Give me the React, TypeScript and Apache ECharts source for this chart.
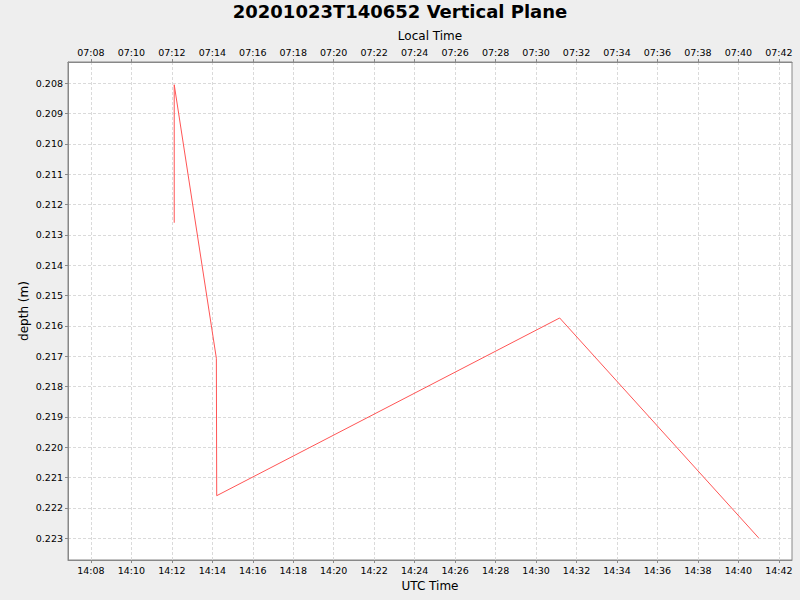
import { useEffect, useRef } from "react";
import * as echarts from "echarts";

// UTC tick labels on the bottom axis, local (UTC-7) labels on the top one
const utcTicks = ["14:08", "14:10", "14:12", "14:14", "14:16", "14:18", "14:20", "14:22", "14:24", "14:26", "14:28", "14:30", "14:32", "14:34", "14:36", "14:38", "14:40", "14:42"];
const localTicks = ["07:08", "07:10", "07:12", "07:14", "07:16", "07:18", "07:20", "07:22", "07:24", "07:26", "07:28", "07:30", "07:32", "07:34", "07:36", "07:38", "07:40", "07:42"];
const depthTicks = [0.208, 0.209, 0.21, 0.211, 0.212, 0.213, 0.214, 0.215, 0.216, 0.217, 0.218, 0.219, 0.22, 0.221, 0.222, 0.223];

// measured track
const sampleTimes = ["14:12:07", "14:12:07", "14:14:12", "14:14:13", "14:31:10", "14:41:00"];
const sampleDepths = [0.2126, 0.20805, 0.21707, 0.2216, 0.21574, 0.22299];

const toSec = (s: string) => {
  const p = s.split(":").map(Number);
  return p[0] * 3600 + p[1] * 60 + (p[2] || 0);
};

const FONT = "DejaVu Sans";

const App = () => {
  const chartRef = useRef<HTMLDivElement>(null);

  useEffect(() => {
    document.body.style.margin = "0";
    const chart = echarts.init(chartRef.current, null, { renderer: "svg" });

    const tickSecs = utcTicks.map(toSec);
    const xMin = toSec("14:06:52");
    const xMax = toSec("14:42:39");

    const axisCommon = {
      type: "value",
      min: xMin,
      max: xMax,
      nameLocation: "middle",
      nameTextStyle: { fontFamily: FONT, fontSize: 12, color: "#000" },
      axisLine: { show: true, lineStyle: { color: "#888" } },
      axisTick: { show: true, length: 3, lineStyle: { color: "#888" }, customValues: tickSecs },
    };

    const gridLine = { show: true, lineStyle: { color: "#dadada", type: [3, 2] } };

    const option: any = {
      animation: false,
      backgroundColor: "#eeeeee",
      title: {
        text: "20201023T140652 Vertical Plane",
        left: "center",
        top: -3,
        textStyle: { fontFamily: FONT, fontSize: 18, fontWeight: "bold", color: "#000" },
      },
      grid: {
        left: 68,
        right: 8,
        top: 62,
        bottom: 40,
        show: true,
        backgroundColor: "#ffffff",
        borderColor: "#888",
        borderWidth: 1,
        outerBoundsMode: "none",
      },
      xAxis: [
        {
          ...axisCommon,
          position: "bottom",
          name: "UTC Time",
          nameGap: 19,
          axisLabel: {
            fontFamily: FONT,
            fontSize: 9.5,
            color: "#000",
            margin: 5,
            customValues: tickSecs,
            formatter: (v: number) => utcTicks[tickSecs.indexOf(v)] ?? "",
          },
          splitLine: gridLine,
        },
        {
          ...axisCommon,
          position: "top",
          name: "Local Time",
          nameGap: 18,
          axisLabel: {
            fontFamily: FONT,
            fontSize: 9.5,
            color: "#000",
            margin: 5,
            customValues: tickSecs,
            formatter: (v: number) => localTicks[tickSecs.indexOf(v)] ?? "",
          },
          splitLine: { show: false },
        },
      ],
      yAxis: {
        type: "value",
        inverse: true,
        min: 0.2073,
        max: 0.22372,
        name: "depth (m)",
        nameLocation: "middle",
        nameGap: 38,
        nameMoveOverlap: false,
        nameTextStyle: { fontFamily: FONT, fontSize: 12, color: "#000" },
        axisLine: { show: true, lineStyle: { color: "#888" } },
        axisTick: { show: true, length: 3, lineStyle: { color: "#888" }, customValues: depthTicks },
        axisLabel: {
          fontFamily: FONT,
          fontSize: 9.5,
          color: "#000",
          margin: 5,
          customValues: depthTicks,
          formatter: (v: number) => v.toFixed(3),
        },
        splitLine: gridLine,
      },
      series: [
        {
          name: "depth",
          type: "line",
          xAxisIndex: 0,
          data: sampleTimes.map((t, i) => [toSec(t), sampleDepths[i]]),
          showSymbol: false,
          symbol: "none",
          lineStyle: { color: "#ff5555", width: 1 },
          itemStyle: { color: "#ff5555" },
        },
      ],
    };

    chart.setOption(option);

    return () => {
      chart.dispose();
    };
  }, []);

  return <div ref={chartRef} style={{ width: "800px", height: "600px" }} />;
};

export default App;
